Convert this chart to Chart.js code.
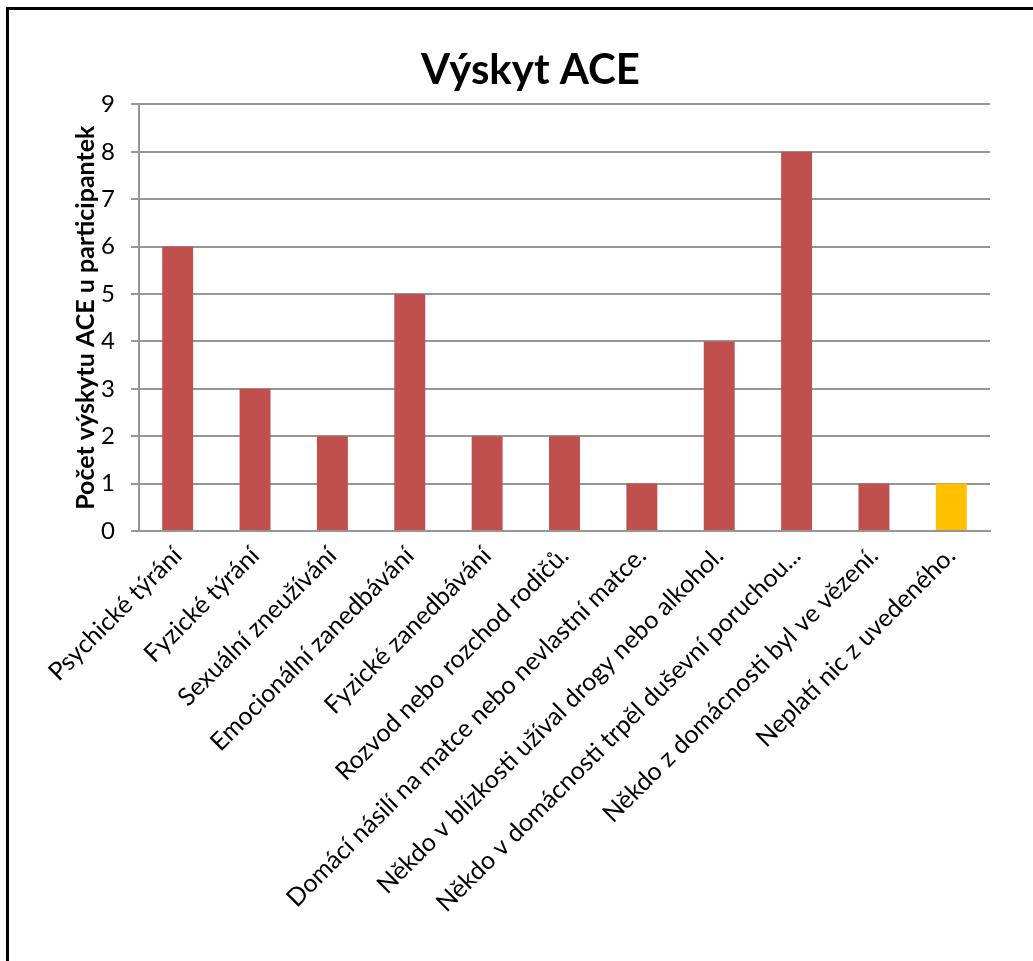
<!DOCTYPE html>
<html>
<head>
<meta charset="utf-8">
<script src="https://cdn.jsdelivr.net/npm/chart.js@4.4.1/dist/chart.umd.min.js"></script>
<style>
  html, body { margin: 0; padding: 0; background: #fff; }
  #frame {
    position: absolute; left: 6px; top: 7px; width: 1100px; height: 1000px;
    border-left: 3px solid #000; border-top: 3px solid #000;
  }
  #wrap { position: absolute; left: 0; top: 0; width: 1033px; height: 961px; }
</style>
</head>
<body>
<div id="frame"></div>
<div id="wrap"><canvas id="aceChart" width="1033" height="961"></canvas></div>
<script>
const categories = [
    'Psychické týrání',
    'Fyzické týrání',
    'Sexuální zneužívání',
    'Emocionální zanedbávání',
    'Fyzické zanedbávání',
    'Rozvod nebo rozchod rodičů.',
    'Domácí násilí na matce nebo nevlastní matce.',
    'Někdo v blízkosti užíval drogy nebo alkohol.',
    'Někdo v domácnosti trpěl duševní poruchou...',
    'Někdo z domácnosti byl ve vězení.',
    'Neplatí nic z uvedeného.'
];
const counts = [6, 3, 2, 5, 2, 2, 1, 4, 8, 1, 1];
const yTicks = [0, 1, 2, 3, 4, 5, 6, 7, 8, 9];

const red = '#C0504D';
const yellow = '#FFC000';
const gridGray = '#969696';
const fontFamily = "Lato, 'Open Sans', sans-serif";

document.addEventListener("DOMContentLoaded", function() {
    const barColors = categories.map((c, i) => i === categories.length - 1 ? yellow : red);

    const ctx = document.getElementById('aceChart').getContext('2d');
    new Chart(ctx, {
        type: 'bar',
        data: {
            labels: categories,
            datasets: [{
                data: counts,
                backgroundColor: barColors,
                borderWidth: 0,
                barPercentage: 0.4,
                categoryPercentage: 1.0
            }]
        },
        options: {
            responsive: false,
            animation: false,
            layout: {
                padding: { left: 71, right: 43, top: 28, bottom: 0 }
            },
            plugins: {
                legend: { display: false },
                tooltip: { enabled: false },
                title: {
                    display: true,
                    text: 'Výskyt ACE',
                    color: '#000',
                    font: { family: fontFamily, size: 42, weight: 'bold' },
                    padding: { top: 17, bottom: 9 }
                }
            },
            scales: {
                x: {
                    grid: { display: false },
                    border: { display: true, color: gridGray, width: 2 },
                    ticks: {
                        color: '#000',
                        font: { family: fontFamily, size: 25 },
                        minRotation: 45,
                        maxRotation: 45,
                        autoSkip: false,
                        padding: 2
                    },
                    afterFit: function(scale) { scale.height = 430; }
                },
                y: {
                    min: 0,
                    max: 9,
                    afterBuildTicks: function(scale) {
                        scale.ticks = yTicks.map(v => ({ value: v }));
                    },
                    grid: {
                        color: gridGray,
                        lineWidth: 2,
                        tickLength: 8,
                        drawTicks: true
                    },
                    border: { display: true, color: gridGray, width: 2 },
                    ticks: {
                        color: '#000',
                        font: { family: fontFamily, size: 24 },
                        padding: 16
                    },
                    title: {
                        display: true,
                        text: 'Počet výskytu ACE u participantek',
                        color: '#000',
                        font: { family: fontFamily, size: 25, weight: 'bold' },
                        padding: { top: 0, bottom: 0 }
                    },
                    afterFit: function(scale) { scale.width = 68; }
                }
            }
        }
    });
});
</script>
</body>
</html>
